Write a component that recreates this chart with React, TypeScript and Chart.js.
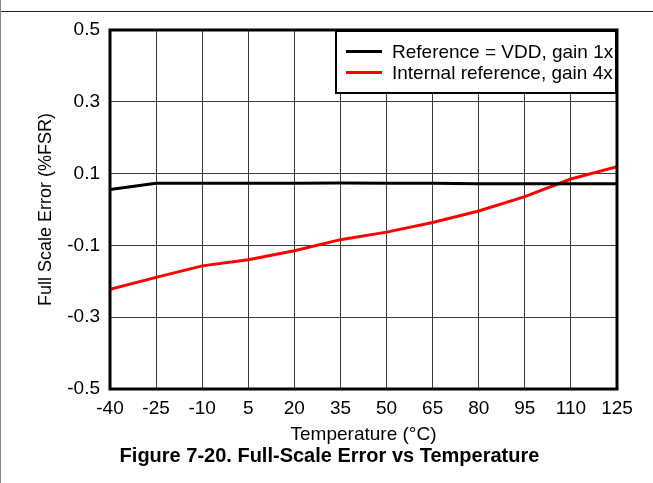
import React, { useEffect, useRef } from "react";
import { Chart, registerables } from "chart.js";

Chart.register(...registerables);

const temperatures = [-40, -25, -10, 5, 20, 35, 50, 65, 80, 95, 110, 125];
const refVddGain1x = [0.056, 0.073, 0.073, 0.073, 0.073, 0.074, 0.073, 0.073, 0.072, 0.072, 0.072, 0.072];
const intRefGain4x = [-0.222, -0.189, -0.157, -0.14, -0.115, -0.084, -0.063, -0.036, -0.004, 0.036, 0.085, 0.119];
const xTicks = [-40, -25, -10, 5, 20, 35, 50, 65, 80, 95, 110, 125];
const yTicks = [-0.5, -0.3, -0.1, 0.1, 0.3, 0.5];
const seriesLabels = ["Reference = VDD, gain 1x", "Internal reference, gain 4x"];
const seriesColors = ["#000000", "#ff0000"];
const xTitle = "Temperature (\u00B0C)";
const yTitle = "Full Scale Error (%FSR)";
const caption = "Figure 7-20. Full-Scale Error vs Temperature";

const FONT = "'Liberation Sans', Arial, Helvetica, sans-serif";

const framePlugin = {
  id: "frameAndLegend",
  afterDraw(chart: any) {
    const { ctx, chartArea } = chart;
    const { left, top, right, bottom } = chartArea;
    ctx.save();
    // legend box
    const bw = 281;
    const bh = 63;
    const bx = right - bw;
    const by = top;
    ctx.fillStyle = "#ffffff";
    ctx.fillRect(bx, by, bw, bh);
    ctx.lineWidth = 2;
    ctx.strokeStyle = "#000000";
    ctx.strokeRect(bx, by + 1, bw - 1, bh - 1);
    const rows = [by + 21.5, by + 42.5];
    chart.data.datasets.forEach((ds: any, i: number) => {
      ctx.beginPath();
      ctx.strokeStyle = ds.borderColor;
      ctx.lineWidth = 3;
      ctx.moveTo(bx + 10, rows[i]);
      ctx.lineTo(bx + 46, rows[i]);
      ctx.stroke();
      ctx.fillStyle = "#000000";
      ctx.font = `19px ${FONT}`;
      ctx.textBaseline = "middle";
      ctx.textAlign = "left";
      ctx.fillText(ds.label, bx + 56, rows[i] + 1);
    });
    // plot frame
    ctx.lineWidth = 3;
    ctx.strokeStyle = "#000000";
    ctx.strokeRect(left, top, right - left, bottom - top);
    ctx.restore();
  },
};

export default function App() {
  const canvasRef = useRef<HTMLCanvasElement | null>(null);

  useEffect(() => {
    const canvas = canvasRef.current;
    if (!canvas) return;
    const tickFont = { family: FONT, size: 19 };
    const yTitleFont = { family: FONT, size: 18 };
    const chart = new Chart(canvas, {
      type: "line",
      data: {
        datasets: [
          {
            label: seriesLabels[0],
            data: temperatures.map((t, i) => ({ x: t, y: refVddGain1x[i] })),
            borderColor: seriesColors[0],
            backgroundColor: seriesColors[0],
            borderWidth: 3,
            pointRadius: 0,
            tension: 0,
          },
          {
            label: seriesLabels[1],
            data: temperatures.map((t, i) => ({ x: t, y: intRefGain4x[i] })),
            borderColor: seriesColors[1],
            backgroundColor: seriesColors[1],
            borderWidth: 3,
            pointRadius: 0,
            tension: 0,
          },
        ],
      },
      options: {
        responsive: false,
        maintainAspectRatio: false,
        animation: false,
        layout: { padding: { left: 0, top: 30, right: 36, bottom: 0 } },
        plugins: {
          legend: { display: false },
          tooltip: { enabled: false },
          title: { display: false },
        },
        scales: {
          x: {
            type: "linear",
            min: -40,
            max: 125,
            afterBuildTicks: (s: any) => {
              s.ticks = xTicks.map((v) => ({ value: v }));
            },
            afterFit: (s: any) => {
              s.height = 94;
            },
            ticks: {
              font: tickFont,
              color: "#000000",
              padding: 8,
              autoSkip: false,
              maxRotation: 0,
              callback: (v: any) => String(v),
            },
            grid: { color: "#3a3a3a", lineWidth: 1, drawTicks: false },
            border: { display: false },
            title: {
              display: true,
              text: xTitle,
              font: tickFont,
              color: "#000000",
              padding: { top: 0, bottom: 37 },
            },
          },
          y: {
            type: "linear",
            min: -0.5,
            max: 0.5,
            afterBuildTicks: (s: any) => {
              s.ticks = yTicks.map((v) => ({ value: v }));
            },
            afterFit: (s: any) => {
              s.width = 110;
            },
            ticks: {
              font: tickFont,
              color: "#000000",
              padding: 10,
              callback: (v: any) => Number(v).toFixed(1),
            },
            grid: { color: "#3a3a3a", lineWidth: 1, drawTicks: false },
            border: { display: false },
            title: {
              display: true,
              text: yTitle,
              font: yTitleFont,
              color: "#000000",
              padding: { top: 35, bottom: 0 },
            },
          },
        },
      },
      plugins: [framePlugin],
    } as any);
    return () => chart.destroy();
  }, []);

  return (
    <div
      style={{
        position: "fixed",
        left: 0,
        top: 0,
        width: 653,
        height: 483,
        background: "#ffffff",
        overflow: "hidden",
      }}
    >
      <canvas
        ref={canvasRef}
        width={653}
        height={483}
        style={{ position: "absolute", left: 0, top: 0, width: 653, height: 483 }}
      />
      <div style={{ position: "absolute", left: 0, top: 11, width: 653, height: 1, background: "#222222" }} />
      <div style={{ position: "absolute", left: 0, top: 0, width: 1, height: 483, background: "#888888" }} />
      <div
        style={{
          position: "absolute",
          left: 3,
          top: 443,
          width: 653,
          textAlign: "center",
          fontFamily: FONT,
          fontWeight: "bold",
          fontSize: 20,
          lineHeight: "24px",
          color: "#000000",
          whiteSpace: "nowrap",
        }}
      >
        {caption}
      </div>
    </div>
  );
}
